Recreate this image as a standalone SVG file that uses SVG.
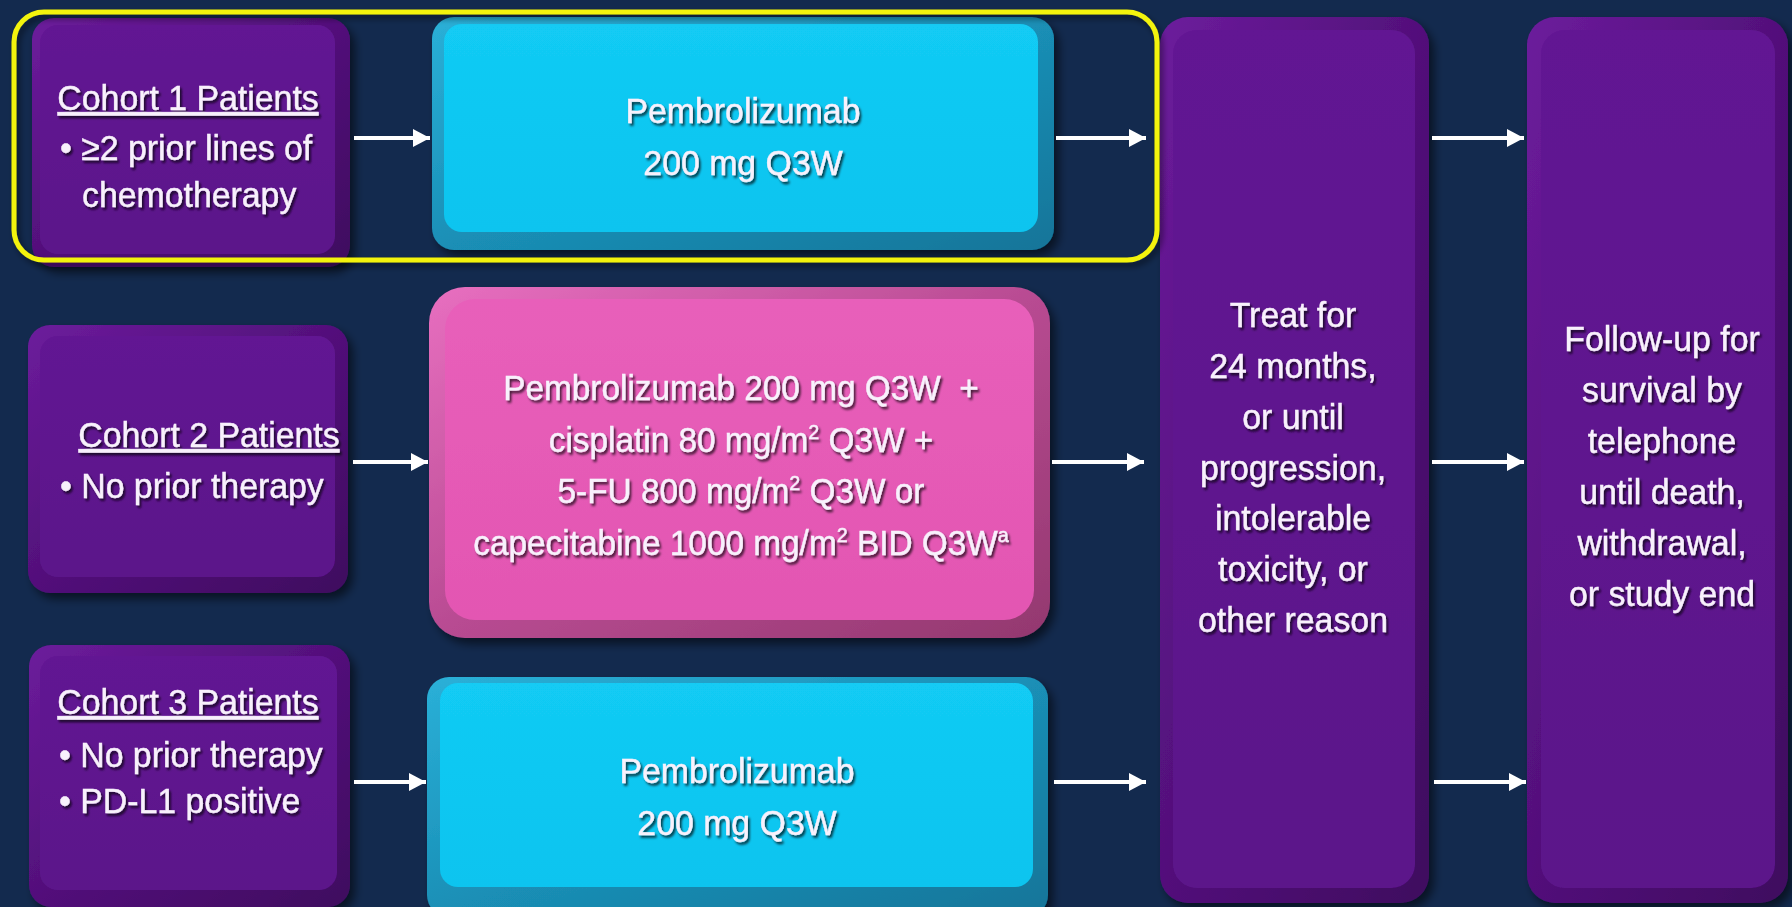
<svg xmlns="http://www.w3.org/2000/svg" width="1792" height="907" viewBox="0 0 1792 907">
  <defs>
    <style>
      .t { font-family: "Liberation Sans", Arial, sans-serif; font-size: 36px; fill: #f8f1fc; stroke: #f8f1fc; stroke-width: 0.4; filter: url(#ts); }
      .m { text-anchor: middle; }
      .u { text-decoration: underline; }
      .pk { font-size: 35.5px; }
      .sup { font-size: 21px; }
      .conn line { stroke: #ffffff; stroke-width: 4; marker-end: url(#ah); }
      .prim { fill: url(#pRim); }
      .pface { fill: url(#pFace); }
      .crim { fill: url(#cRim); }
      .cface { fill: url(#cFace); }
      .krim { fill: url(#kRim); }
      .kface { fill: url(#kFace); }
    </style>
    <filter id="ts" x="-5%" y="-20%" width="110%" height="150%">
      <feDropShadow dx="2" dy="2.5" stdDeviation="1.2" flood-color="#000" flood-opacity="0.7"/>
    </filter>
    <filter id="bs" x="-10%" y="-10%" width="125%" height="125%">
      <feGaussianBlur in="SourceAlpha" stdDeviation="5"/>
      <feOffset dx="5" dy="6" result="o"/>
      <feComponentTransfer><feFuncA type="linear" slope="0.55"/></feComponentTransfer>
      <feMerge><feMergeNode/><feMergeNode in="SourceGraphic"/></feMerge>
    </filter>
    <filter id="ys" x="-5%" y="-10%" width="110%" height="125%">
      <feGaussianBlur in="SourceAlpha" stdDeviation="3"/>
      <feOffset dx="3" dy="4"/>
      <feComponentTransfer><feFuncA type="linear" slope="0.5"/></feComponentTransfer>
      <feMerge><feMergeNode/><feMergeNode in="SourceGraphic"/></feMerge>
    </filter>
    <linearGradient id="pRim" x1="0" y1="0" x2="1" y2="1">
      <stop offset="0" stop-color="#6c1c9c"/>
      <stop offset="0.5" stop-color="#52107a"/>
      <stop offset="1" stop-color="#3f0b5f"/>
    </linearGradient>
    <linearGradient id="pFace" x1="0" y1="0" x2="0" y2="1">
      <stop offset="0" stop-color="#621693"/>
      <stop offset="1" stop-color="#5b138a"/>
    </linearGradient>
    <linearGradient id="cRim" x1="0" y1="0" x2="1" y2="1">
      <stop offset="0" stop-color="#2ab0d8"/>
      <stop offset="0.5" stop-color="#1a8fb6"/>
      <stop offset="1" stop-color="#137599"/>
    </linearGradient>
    <linearGradient id="cFace" x1="0" y1="0" x2="0" y2="1">
      <stop offset="0" stop-color="#12cbf4"/>
      <stop offset="1" stop-color="#0cc4ef"/>
    </linearGradient>
    <linearGradient id="kRim" x1="0" y1="0" x2="1" y2="1">
      <stop offset="0" stop-color="#e86fc0"/>
      <stop offset="0.5" stop-color="#b84b92"/>
      <stop offset="1" stop-color="#93386f"/>
    </linearGradient>
    <linearGradient id="kFace" x1="0" y1="0" x2="0" y2="1">
      <stop offset="0" stop-color="#e85fba"/>
      <stop offset="1" stop-color="#e356b2"/>
    </linearGradient>
    <marker id="ah" markerUnits="userSpaceOnUse" markerWidth="17" markerHeight="18" refX="17" refY="9" orient="auto">
      <path d="M0,0 L17,9 L0,18 Z" fill="#ffffff"/>
    </marker>
  </defs>

  <rect x="0" y="0" width="1792" height="907" fill="#132a4e"/>

  <g id="cohort1" filter="url(#bs)">
    <rect class="prim" x="32" y="18" width="318" height="249" rx="22"/>
    <rect class="pface" x="40" y="25" width="295" height="229" rx="18"/>
    <g transform="matrix(0.94 0 0 1 3.6 0)">
      <text class="t m u" x="196.2" y="110">Cohort 1 Patients</text>
      <text class="t" x="60" y="160">• ≥2 prior lines of</text>
      <text class="t" x="83.4" y="207">chemotherapy</text>
    </g>
  </g>

  <g id="cohort2" filter="url(#bs)">
    <rect class="prim" x="28" y="325" width="320" height="268" rx="22"/>
    <rect class="pface" x="40" y="336" width="295" height="241" rx="18"/>
    <g transform="matrix(0.94 0 0 1 3.6 0)">
      <text class="t m u" x="218.5" y="447">Cohort 2 Patients</text>
      <text class="t" x="60" y="498">• No prior therapy</text>
    </g>
  </g>

  <g id="cohort3" filter="url(#bs)">
    <rect class="prim" x="29" y="645" width="321" height="262" rx="22"/>
    <rect class="pface" x="40" y="656" width="297" height="234" rx="18"/>
    <g transform="matrix(0.94 0 0 1 3.54 0)">
      <text class="t m u" x="196.2" y="714">Cohort 3 Patients</text>
      <text class="t" x="59" y="767">• No prior therapy</text>
      <text class="t" x="59" y="813">• PD-L1 positive</text>
    </g>
  </g>

  <g id="pembro1" filter="url(#bs)">
    <rect class="crim" x="432" y="17" width="622" height="233" rx="22"/>
    <rect class="cface" x="444" y="24" width="594" height="208" rx="18"/>
    <g transform="matrix(0.94 0 0 1 44.58 0)">
      <text class="t m" x="743" y="123">Pembrolizumab</text>
      <text class="t m" x="743" y="175">200 mg Q3W</text>
    </g>
  </g>

  <g id="combo" filter="url(#bs)">
    <rect class="krim" x="429" y="287" width="621" height="351" rx="36"/>
    <rect class="kface" x="445" y="299" width="589" height="321" rx="30"/>
    <g transform="matrix(0.94 0 0 1 44.46 0)">
      <text class="t m pk" x="741" y="400" xml:space="preserve">Pembrolizumab 200 mg Q3W  +</text>
      <text class="t m pk" x="741" y="452">cisplatin 80 mg/m<tspan class="sup" dy="-13">2</tspan><tspan dy="13"> Q3W +</tspan></text>
      <text class="t m pk" x="741" y="503">5-FU 800 mg/m<tspan class="sup" dy="-13">2</tspan><tspan dy="13"> Q3W or</tspan></text>
      <text class="t m pk" x="741" y="555">capecitabine 1000 mg/m<tspan class="sup" dy="-13">2</tspan><tspan dy="13"> BID Q3W</tspan><tspan class="sup" dy="-13">a</tspan></text>
    </g>
  </g>

  <g id="pembro3" filter="url(#bs)">
    <rect class="crim" x="427" y="677" width="621" height="240" rx="22"/>
    <rect class="cface" x="440" y="683" width="593" height="204" rx="18"/>
    <g transform="matrix(0.94 0 0 1 44.22 0)">
      <text class="t m" x="737" y="783">Pembrolizumab</text>
      <text class="t m" x="737" y="835">200 mg Q3W</text>
    </g>
  </g>

  <g id="treat" filter="url(#bs)">
    <rect class="prim" x="1160" y="17" width="269" height="886" rx="28"/>
    <rect class="pface" x="1173" y="30" width="242" height="858" rx="24"/>
    <g transform="matrix(0.94 0 0 1 77.58 0)">
      <text class="t m" x="1293" y="327">Treat for</text>
      <text class="t m" x="1293" y="378">24 months,</text>
      <text class="t m" x="1293" y="429">or until</text>
      <text class="t m" x="1293" y="480">progression,</text>
      <text class="t m" x="1293" y="530">intolerable</text>
      <text class="t m" x="1293" y="581">toxicity, or</text>
      <text class="t m" x="1293" y="632">other reason</text>
    </g>
  </g>

  <g id="followup" filter="url(#bs)">
    <rect class="prim" x="1527" y="17" width="261" height="886" rx="28"/>
    <rect class="pface" x="1541" y="30" width="234" height="858" rx="24"/>
    <g transform="matrix(0.94 0 0 1 99.72 0)">
      <text class="t m" x="1662" y="351">Follow-up for</text>
      <text class="t m" x="1662" y="402">survival by</text>
      <text class="t m" x="1662" y="453">telephone</text>
      <text class="t m" x="1662" y="504">until death,</text>
      <text class="t m" x="1662" y="555">withdrawal,</text>
      <text class="t m" x="1662" y="606">or study end</text>
    </g>
  </g>

  <g id="connectors" class="conn">
    <line x1="354" y1="138" x2="430" y2="138"/>
    <line x1="1056" y1="138" x2="1146" y2="138"/>
    <line x1="1432" y1="138" x2="1524" y2="138"/>
    <line x1="353" y1="462" x2="428" y2="462"/>
    <line x1="1052" y1="462" x2="1144" y2="462"/>
    <line x1="1432" y1="462" x2="1524" y2="462"/>
    <line x1="354" y1="782" x2="426" y2="782"/>
    <line x1="1054" y1="782" x2="1146" y2="782"/>
    <line x1="1434" y1="782" x2="1526" y2="782"/>
  </g>

  <g id="highlight" filter="url(#ys)">
    <rect x="14" y="12" width="1143" height="248" rx="30" fill="none" stroke="#f3f30c" stroke-width="5"/>
  </g>
</svg>
